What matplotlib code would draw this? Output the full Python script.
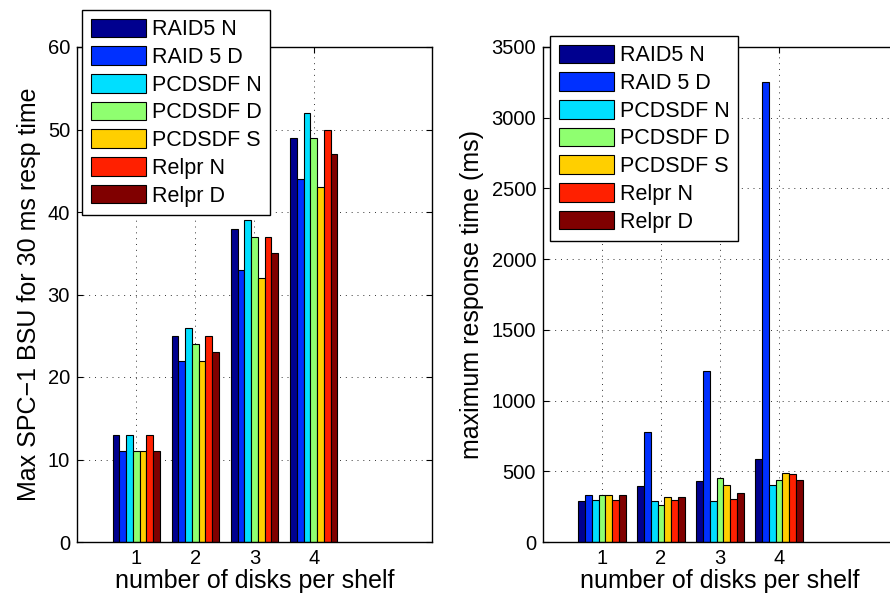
import matplotlib
matplotlib.use("Agg")
import matplotlib.pyplot as plt
import numpy as np

plt.rcParams['font.family'] = ['Liberation Sans', 'DejaVu Sans']

# Data
groups = [1, 2, 3, 4]
series_names = ["RAID5 N", "RAID 5 D", "PCDSDF N", "PCDSDF D", "PCDSDF S", "Relpr N", "Relpr D"]

bsu_raid5_n = [13, 25, 38, 49]
bsu_raid5_d = [11, 22, 33, 44]
bsu_pcdsdf_n = [13, 26, 39, 52]
bsu_pcdsdf_d = [11, 24, 37, 49]
bsu_pcdsdf_s = [11, 22, 32, 43]
bsu_relpr_n = [13, 25, 37, 50]
bsu_relpr_d = [11, 23, 35, 47]

rt_raid5_n = [290, 395, 430, 590]
rt_raid5_d = [335, 775, 1210, 3250]
rt_pcdsdf_n = [295, 290, 290, 400]
rt_pcdsdf_d = [335, 260, 455, 435]
rt_pcdsdf_s = [335, 315, 400, 490]
rt_relpr_n = [295, 295, 305, 480]
rt_relpr_d = [335, 315, 345, 435]

bsu_series = [bsu_raid5_n, bsu_raid5_d, bsu_pcdsdf_n, bsu_pcdsdf_d,
              bsu_pcdsdf_s, bsu_relpr_n, bsu_relpr_d]
rt_series = [rt_raid5_n, rt_raid5_d, rt_pcdsdf_n, rt_pcdsdf_d,
             rt_pcdsdf_s, rt_relpr_n, rt_relpr_d]

# jet-like palette
colors = [(0, 0, 0.5625), (0, 0.1875, 1), (0, 0.875, 1), (0.5625, 1, 0.4375),
          (1, 0.8125, 0), (1, 0.125, 0), (0.5, 0, 0)]

W, H = 890, 598
fig = plt.figure(figsize=(W / 100, H / 100), dpi=100)

FS_TICK = 14.5
FS_LABEL = 18
FS_LEG = 15.5


def draw_panel(ax, series, ylim, yticks, ylabel, legend_box):
    n = len(series)
    w = 0.8 / n
    x = np.array(groups, dtype=float)
    handles = []
    for i, (vals, c) in enumerate(zip(series, colors)):
        h = ax.bar(x + (i - (n - 1) / 2) * w, vals, width=w, color=c,
                   edgecolor='black', linewidth=0.8, zorder=2,
                   label=series_names[i])
        handles.append(h)
    ax.set_xlim(0, 6)
    ax.set_ylim(*ylim)
    ax.set_xticks(groups)
    ax.set_yticks(yticks)
    ax.tick_params(direction='in', length=4, labelsize=FS_TICK, top=True, right=True,
                   width=0.8, pad=5)
    ax.grid(True, linestyle=(0, (1, 5)), color='#333333', linewidth=0.7, zorder=0)
    ax.set_axisbelow(True)
    for s in ax.spines.values():
        s.set_linewidth(1.0)
    ax.set_xlabel("number of disks per shelf", fontsize=FS_LABEL, labelpad=1)
    ax.set_ylabel(ylabel, fontsize=FS_LABEL, labelpad=5)
    leg = ax.legend(handles=handles, loc='upper left',
                    bbox_to_anchor=legend_box, bbox_transform=fig.transFigure,
                    fontsize=FS_LEG, frameon=True, fancybox=False,
                    edgecolor='black', framealpha=1, handlelength=2.55,
                    handleheight=0.95, labelspacing=0.28, handletextpad=0.3,
                    borderpad=0.4, borderaxespad=0)
    leg.get_frame().set_linewidth(1.0)
    leg.set_zorder(5)


ax1 = fig.add_axes([77 / W, (H - 542) / H, 355 / W, 495 / H])
draw_panel(ax1, bsu_series, (0, 60), [0, 10, 20, 30, 40, 50, 60],
           "Max SPC\u22121 BSU for 30 ms resp time",
           (82 / W, 1 - 10 / H))

ax2 = fig.add_axes([543 / W, (H - 542) / H, 354 / W, 495 / H])
draw_panel(ax2, rt_series, (0, 3500), [0, 500, 1000, 1500, 2000, 2500, 3000, 3500],
           "maximum response time (ms)",
           (550 / W, 1 - 36 / H))

fig.savefig("out.png", dpi=100)
